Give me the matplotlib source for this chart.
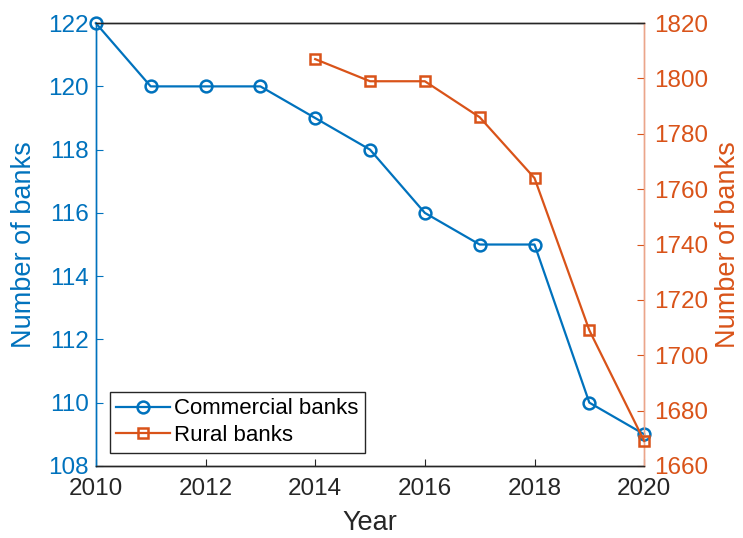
import matplotlib
matplotlib.use('Agg')
import matplotlib.pyplot as plt

# bank counts per year
years = [2010, 2011, 2012, 2013, 2014, 2015, 2016, 2017, 2018, 2019, 2020]
commercial = [122, 120, 120, 120, 119, 118, 116, 115, 115, 110, 109]
rural_years = [2014, 2015, 2016, 2017, 2018, 2019, 2020]
rural = [1807, 1799, 1799, 1786, 1764, 1709, 1669]

blue = '#0072BD'
orange = '#D95319'
dark = '#262626'

plt.rcParams['font.family'] = ['Liberation Sans', 'DejaVu Sans']

fig = plt.figure(figsize=(7.43, 5.38), dpi=100)
ax = fig.add_axes([0.129, 0.134, 0.738, 0.823])
ax2 = ax.twinx()

l1, = ax.plot(years, commercial, '-o', color=blue, lw=1.6, ms=8.5,
              mfc='none', mew=1.8, clip_on=False, zorder=3)
l2, = ax2.plot(rural_years, rural, '-s', color=orange, lw=1.6, ms=7,
               mfc='none', mew=1.8, clip_on=False, zorder=3)

ax.set_xlim(2010, 2020)
ax.set_ylim(108, 122)
ax2.set_ylim(1660, 1820)
ax.set_xticks(range(2010, 2021, 2))
ax.set_yticks(range(108, 123, 2))
ax2.set_yticks(range(1660, 1821, 20))

ax.set_xlabel('Year', fontsize=19.5, color=dark, labelpad=7)
ax.set_ylabel('Number of banks', fontsize=19.5, color=blue, labelpad=8)
ax2.set_ylabel('Number of banks', fontsize=19.5, color=orange, labelpad=5)

ax.tick_params(axis='x', direction='in', colors=dark, labelsize=17.5, length=5, pad=9)
ax.tick_params(axis='y', direction='in', colors=blue, labelsize=17.5, length=5, pad=5)
ax2.tick_params(axis='y', direction='in', colors=orange, labelsize=17.5, length=5, pad=7)

for a in (ax, ax2):
    a.spines['top'].set_color(dark)
    a.spines['bottom'].set_color(dark)
    a.spines['left'].set_color(blue)
    a.spines['right'].set_color('#EBA58A')
    for s in a.spines.values():
        s.set_linewidth(1.0)

leg = ax2.legend([l1, l2], ['Commercial banks', 'Rural banks'], loc='lower left',
                 bbox_to_anchor=(0.025, 0.03), fontsize=16, frameon=True,
                 fancybox=False, edgecolor=dark, framealpha=1, handlelength=2.4,
                 borderpad=0.3, labelspacing=0.25, handletextpad=0.2,
                 borderaxespad=0)
leg.get_frame().set_linewidth(1.0)

fig.savefig('out.png', dpi=100)
